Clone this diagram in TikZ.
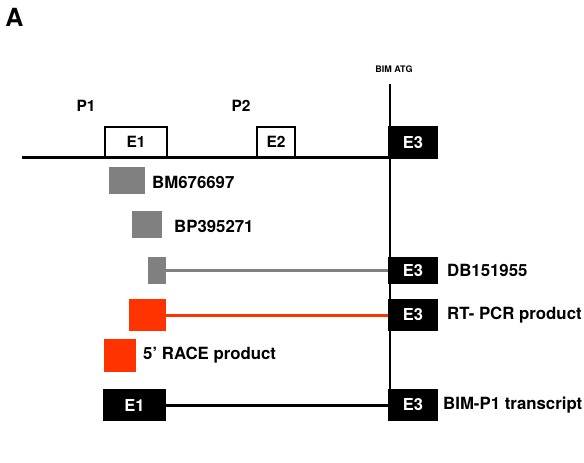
\documentclass[tikz,border=0pt]{standalone}
\usepackage{fontspec}
\setmainfont{TeX Gyre Heros}
\definecolor{exgray}{RGB}{128,128,128}
\definecolor{exred}{RGB}{255,51,0}
\begin{document}
\begin{tikzpicture}[x=1pt,y=-1pt,
  lbl/.style={font=\bfseries\fontsize{16.8}{16.8}\selectfont, inner sep=0pt, anchor=west},
  openexon/.style={draw=black, line width=1.6pt, fill=white, inner sep=0pt, outer sep=0pt, font=\bfseries\fontsize{15.5}{15.5}\selectfont},
  blackexon/.style={draw=none, fill=black, text=white, inner sep=0pt, outer sep=0pt, minimum width=50pt, minimum height=33pt, font=\bfseries\fontsize{16.5}{16.5}\selectfont},
  graybox/.style={fill=exgray, draw=none, inner sep=0pt, outer sep=0pt},
  redbox/.style={fill=exred, draw=none, inner sep=0pt, outer sep=0pt},
  conn/.style={line width=3pt}
]
\useasboundingbox (0,0) rectangle (584,463);
\fill[white] (0,0) rectangle (584,463);

\node[font=\bfseries\fontsize{25}{25}\selectfont, inner sep=0pt] (A) at (14.5,17) {A};
\node[font=\bfseries\fontsize{15.5}{15.5}\selectfont, inner sep=0pt] (P1) at (86,106) {P1};
\node[font=\bfseries\fontsize{15.5}{15.5}\selectfont, inner sep=0pt] (P2) at (241,106) {P2};
\node[font=\bfseries\fontsize{9}{9}\selectfont, inner sep=0pt] (atg) at (394,69) {BIM ATG};

% genomic baseline
\coordinate (g0) at (22,157);
\coordinate (g1) at (390,157);
\draw[line width=3pt] (g0) -- (g1);

% ATG vertical line
\coordinate (v0) at (390,84);
\coordinate (v1) at (390,421);
\draw[line width=1.3pt] (v0) -- (v1);

% exons on genomic line
\node[openexon, minimum width=62pt, minimum height=30pt] (E1g) at (136,142) {E1};
\node[openexon, minimum width=38pt, minimum height=30pt] (E2g) at (276,142) {E2};
\node[blackexon] (E3g) at (413,142.5) {E3};

% BM676697
\node[graybox, minimum width=36pt, minimum height=27pt] (bm) at (127,180.5) {};
\node[lbl] (bmL) at (152,182) {BM676697};

% BP395271
\node[graybox, minimum width=30pt, minimum height=27pt] (bp) at (147,224.5) {};
\node[lbl] (bpL) at (174,226) {BP395271};

% DB151955
\node[graybox, minimum width=18pt, minimum height=27pt] (db) at (157,270.5) {};
\node[blackexon, minimum height=27pt] (E3db) at (413,270.5) {E3};
\draw[conn, exgray] (db.east) -- (E3db.west);
\node[lbl] (dbL) at (447,270) {DB151955};

% RT-PCR product
\node[redbox, minimum width=37pt, minimum height=32pt] (rt) at (147.5,315) {};
\node[blackexon, minimum height=32pt] (E3rt) at (413,315) {E3};
\draw[conn, exred] (rt.east) -- (E3rt.west);
\node[lbl] (rtL) at (447,315) {RT- PCR product};

% 5' RACE product
\node[redbox, minimum width=32pt, minimum height=33pt] (race) at (120,355.5) {};
\node[lbl] (raceL) at (143,355) {5’ RACE product};

% BIM-P1 transcript
\node[blackexon, minimum width=63pt, minimum height=32pt] (E1t) at (134.5,405) {E1};
\node[blackexon, minimum height=32pt] (E3t) at (413,405) {E3};
\draw[conn, black] (E1t.east) -- (E3t.west);
\node[lbl] (tL) at (443,405) {BIM-P1 transcript};
\end{tikzpicture}
\end{document}
